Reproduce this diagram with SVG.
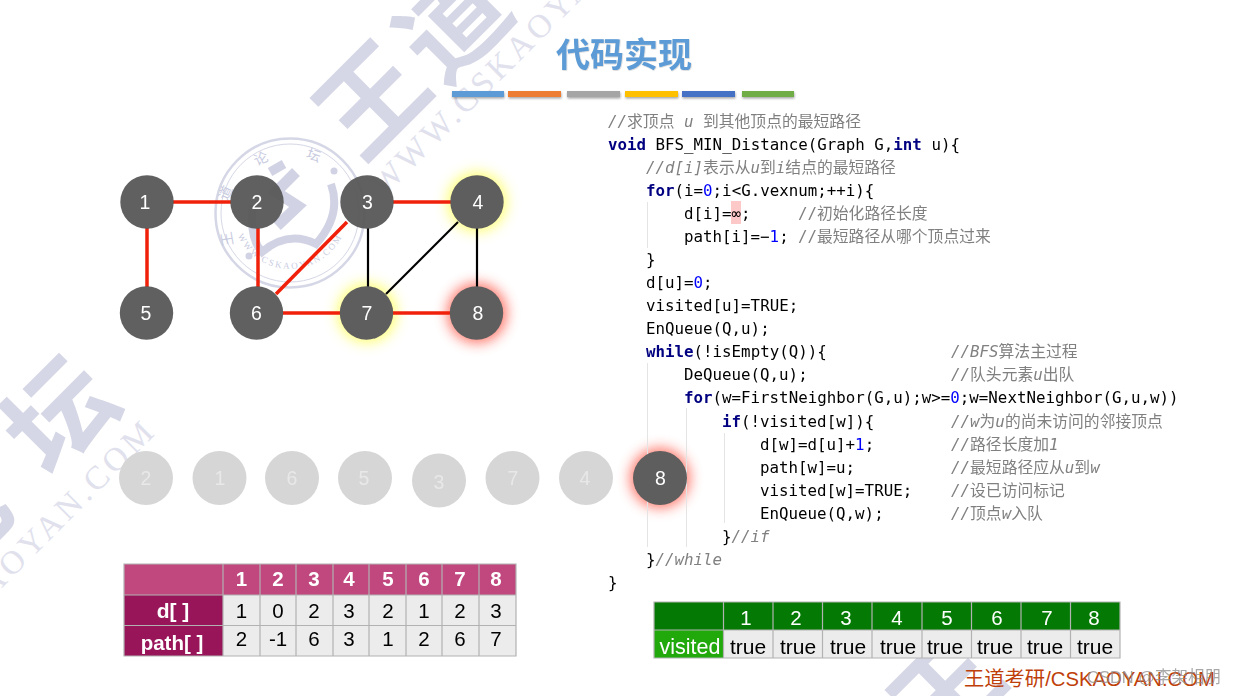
<svg xmlns="http://www.w3.org/2000/svg" width="1238" height="696" viewBox="0 0 1238 696">
<style>
text{font-family:"Liberation Sans","Noto Sans CJK SC",sans-serif}
.wm{font-family:"Noto Sans CJK SC",sans-serif;font-weight:700;font-size:106px;fill:#d5d7e6;text-anchor:middle}
.wt{font-family:"Liberation Serif",serif;fill:#e0e1ed;font-size:33px;letter-spacing:4px}
.seal{fill:none;stroke:#d5d7e6}
.sealt{font-family:"Noto Sans CJK SC",sans-serif;fill:#c9cbdf;font-size:14px;text-anchor:middle}
.n circle{fill:#565656;fill-opacity:.94}
.n circle.o{fill:#5e5e5e;fill-opacity:1}
.n text,.q text{font-size:19.5px;fill:#fff;text-anchor:middle}
.q circle{fill:#d6d6d6}
.q text{fill:#e8e8e8}
.r{stroke:#f0200a;stroke-width:3.5;fill:none}
.b{stroke:#000;stroke-width:2.2;fill:none}
.code text{font-family:"DejaVu Sans Mono","Noto Sans CJK SC",monospace;font-size:15.8px;fill:#000}
.code .k{font-weight:700;fill:#000080}
.code .d{fill:#0000ff}
.code .c{fill:#808080}
.code .i{fill:#808080;font-style:italic}
.g{stroke:#e4e4e4;stroke-width:1}
.t1 .h{fill:#c0487f}.t1 .l{fill:#98155a}
.t2 .h{fill:#047a04}.t2 .l{fill:#21a80a}
.cell{fill:#ececec}
.grid{stroke:#b2b2b2;stroke-width:1.2;fill:none}
.tw{fill:#fff;font-weight:700;font-size:20.5px;text-anchor:middle}
.tb{fill:#000;font-size:20.5px;text-anchor:middle}
.bar{filter:url(#sh)}
</style>
<defs>
<filter id="glow" x="-80%" y="-80%" width="260%" height="260%"><feGaussianBlur stdDeviation="6.5"/></filter>
<filter id="sh" x="-5%" y="-50%" width="110%" height="220%"><feDropShadow dx="0.5" dy="1.5" stdDeviation="1" flood-color="#000" flood-opacity=".35"/></filter>
<filter id="ts"><feDropShadow dx="0.5" dy="0.5" stdDeviation="0.6" flood-color="#000" flood-opacity=".25"/></filter>
<path id="sealbot" d="M236,232 A58,58 0 0 0 344,232"/>
</defs>

<g id="watermark">
<text class="wm" transform="translate(372,100) rotate(-45)" y="38">王</text>
<text class="wm" transform="translate(453,23) rotate(-45)" y="38">道</text>
<text class="wm" transform="translate(60,415) rotate(-45)" y="38">坛</text>
<text class="wm" transform="translate(-45,522) rotate(-45)" y="38">论</text>
<text class="wm" transform="translate(947,692) rotate(-45)" y="38">王</text>
<text class="wt" transform="translate(384,197) rotate(-45)">WWW.CSKAOYAN.COM</text>
<text class="wt" transform="translate(158,432) rotate(-45)" text-anchor="end">WWW.CSKAOYAN.COM</text>
<g id="seal">
<circle class="seal" cx="290" cy="213" r="74.5" stroke-width="2.5"/>
<circle class="seal" cx="290" cy="213" r="69" stroke-width="1"/>
<text class="sealt" transform="translate(232,238) rotate(-100)">王</text>
<text class="sealt" transform="translate(230,195) rotate(-65)">道</text>
<text class="sealt" transform="translate(263,163) rotate(-25)">论</text>
<text class="sealt" transform="translate(312,160) rotate(20)">坛</text>
<text class="sealt" style="font-family:'Liberation Serif',serif;font-size:9px;letter-spacing:2px"><textPath href="#sealbot" startOffset="50%">WWW.CSKAOYAN.COM</textPath></text>
<path d="M296,172 L276,192 L298,206 L277,226" fill="none" stroke="#d1d3e4" stroke-width="11"/>
<path d="M270,172 L284,164" fill="none" stroke="#d1d3e4" stroke-width="9"/>
<path d="M253,205 Q249,238 262,252 Q288,230 316,244 Q342,215 331,184" fill="none" stroke="#d1d3e4" stroke-width="8"/>
<circle cx="334" cy="171" r="3.5" fill="#d1d3e4"/>
<circle cx="249" cy="256" r="3.5" fill="#d1d3e4"/>
</g>
</g>

<g id="title">
<text x="624" y="67" text-anchor="middle" font-size="34" font-weight="700" fill="#5b9bd5" filter="url(#ts)" style="font-family:'Noto Sans CJK SC',sans-serif">代码实现</text>
<rect class="bar" x="452" y="91" width="52" height="6" fill="#5b9bd5"/>
<rect class="bar" x="508" y="91" width="53" height="6" fill="#ed7d31"/>
<rect class="bar" x="567" y="91" width="53" height="6" fill="#a5a5a5"/>
<rect class="bar" x="625" y="91" width="53" height="6" fill="#ffc000"/>
<rect class="bar" x="682" y="91" width="53" height="6" fill="#4472c4"/>
<rect class="bar" x="742" y="91" width="52" height="6" fill="#70ad47"/>
</g>

<g id="glows" opacity=".85">
<circle cx="477" cy="202" r="30" fill="#ffff60" filter="url(#glow)"/>
<circle cx="367" cy="313" r="30" fill="#ffff60" filter="url(#glow)"/>
<circle cx="477" cy="313" r="30" fill="#ff5f50" filter="url(#glow)"/>
<circle cx="660" cy="478" r="30" fill="#ff5f50" filter="url(#glow)"/>
</g>

<g id="connectors">
<path class="r" d="M173,202H231"/>
<path class="r" d="M147,228V287"/>
<path class="r" d="M258,228V287"/>
<path class="r" d="M347,222L276,294"/>
<path class="r" d="M393,202H451"/>
<path class="r" d="M283,313H341"/>
<path class="r" d="M393,313H451"/>
<path class="b" d="M368,228V287"/>
<path class="b" d="M458,222L386,294"/>
<path class="b" d="M477,228V287"/>
</g>

<g id="code-guides">
<line class="g" x1="647.5" y1="202" x2="647.5" y2="248"/>
<line class="g" x1="647.5" y1="363" x2="647.5" y2="547"/>
<line class="g" x1="686.5" y1="408" x2="686.5" y2="547"/>
<line class="g" x1="724.5" y1="433" x2="724.5" y2="523"/>
</g>

<g class="n" id="node-1"><circle cx="147" cy="202" r="26.7"/><text x="145" y="209">1</text></g>
<g class="n" id="node-2"><circle cx="257" cy="202" r="26.7"/><text x="257" y="209">2</text></g>
<g class="n" id="node-3"><circle cx="367" cy="202" r="26.7"/><text x="367.500" y="209">3</text></g>
<g class="n" id="node-4"><circle class="o" cx="477" cy="202" r="26.7"/><text x="478" y="209">4</text></g>
<g class="n" id="node-5"><circle cx="146.500" cy="313" r="26.7"/><text x="146" y="320">5</text></g>
<g class="n" id="node-6"><circle cx="256.500" cy="313" r="26.700"/><text x="256.500" y="320">6</text></g>
<g class="n" id="node-7"><circle class="o" cx="366.500" cy="313" r="26.700"/><text x="367" y="320">7</text></g>
<g class="n" id="node-8"><circle class="o" cx="476.500" cy="313" r="26.700"/><text x="478" y="320">8</text></g>

<g id="queue">
<g class="q" id="q-2"><circle cx="146" cy="478" r="27"/><text x="146" y="485">2</text></g>
<g class="q" id="q-1"><circle cx="219.500" cy="478" r="27"/><text x="220" y="485">1</text></g>
<g class="q" id="q-6"><circle cx="292" cy="478" r="27"/><text x="292" y="485">6</text></g>
<g class="q" id="q-5"><circle cx="365" cy="478" r="27"/><text x="364" y="485">5</text></g>
<g class="q" id="q-3"><circle cx="439" cy="480.500" r="27"/><text x="439" y="489">3</text></g>
<g class="q" id="q-7"><circle cx="512.500" cy="478" r="27"/><text x="513" y="485">7</text></g>
<g class="q" id="q-4"><circle cx="586" cy="478" r="27"/><text x="585" y="485">4</text></g>
<g class="n" id="q-8"><circle class="o" cx="660" cy="478" r="27"/><text x="660.500" y="485">8</text></g>
</g>

<g class="t1" id="table-path">
<rect class="h" x="124" y="564" width="392" height="31"/>
<rect class="l" x="124" y="595" width="99" height="61"/>
<rect class="cell" x="223" y="595" width="293" height="61"/>
<path class="grid" d="M124,564H516V656H124ZM124,595H516M124,625.500H516M223,564V656M260,564V656M296,564V656M333,564V656M369,564V656M406,564V656M442,564V656M479,564V656"/>
<text class="tw" x="241.500" y="586">1</text><text class="tw" x="278" y="586">2</text><text class="tw" x="314" y="586">3</text><text class="tw" x="349" y="586">4</text><text class="tw" x="388" y="586">5</text><text class="tw" x="424" y="586">6</text><text class="tw" x="460" y="586">7</text><text class="tw" x="496" y="586">8</text>
<text class="tw" x="173" y="618" style="font-size:21px">d[ ]</text>
<text class="tw" x="172" y="650">path[ ]</text>
<text class="tb" x="241.500" y="618">1</text><text class="tb" x="278" y="618">0</text><text class="tb" x="314" y="618">2</text><text class="tb" x="349" y="618">3</text><text class="tb" x="388" y="618">2</text><text class="tb" x="424" y="618">1</text><text class="tb" x="460" y="618">2</text><text class="tb" x="496" y="618">3</text>
<text class="tb" x="241.500" y="646">2</text><text class="tb" x="278" y="646">-1</text><text class="tb" x="314" y="646">6</text><text class="tb" x="349" y="646">3</text><text class="tb" x="388" y="646">1</text><text class="tb" x="424" y="646">2</text><text class="tb" x="460" y="646">6</text><text class="tb" x="496" y="646">7</text>
</g>

<g class="t2" id="table-visited">
<rect class="h" x="654" y="602" width="466" height="28"/>
<rect class="l" x="654" y="630" width="69.500" height="28"/>
<rect class="cell" x="723.500" y="630" width="396.500" height="28"/>
<path class="grid" d="M654,602H1120V658H654ZM654,630H1120M723.500,602V658M773,602V658M822.500,602V658M872,602V658M922,602V658M971.500,602V658M1021,602V658M1070.500,602V658"/>
<g font-size="20.5" fill="#fff" text-anchor="middle"><text x="746" y="625">1</text><text x="796" y="625">2</text><text x="846" y="625">3</text><text x="897" y="625">4</text><text x="947" y="625">5</text><text x="997" y="625">6</text><text x="1047" y="625">7</text><text x="1094" y="625">8</text></g>
<text x="690" y="654" font-size="21.5" fill="#fff" text-anchor="middle">visited</text>
<g font-size="21" fill="#000" text-anchor="middle"><text x="748" y="654">true</text><text x="798" y="654">true</text><text x="848" y="654">true</text><text x="898" y="654">true</text><text x="945" y="654">true</text><text x="995" y="654">true</text><text x="1045" y="654">true</text><text x="1095" y="654">true</text></g>
</g>

<g class="code" id="code" xml:space="preserve" transform="translate(0,1)">
<rect x="731" y="200" width="10" height="23" fill="#fcc8c8"/>
<text x="608" y="126"><tspan class="i">//</tspan><tspan class="c">求顶点 </tspan><tspan class="i">u </tspan><tspan class="c">到其他顶点的最短路径</tspan></text>
<text x="608" y="149"><tspan class="k">void</tspan> BFS_MIN_Distance(Graph G,<tspan class="k">int</tspan> u){</text>
<text x="646" y="172"><tspan class="i">//d[i]</tspan><tspan class="c">表示从</tspan><tspan class="i">u</tspan><tspan class="c">到</tspan><tspan class="i">i</tspan><tspan class="c">结点的最短路径</tspan></text>
<text x="646" y="195"><tspan class="k">for</tspan>(i=<tspan class="d">0</tspan>;i&lt;G.vexnum;++i){</text>
<text x="684" y="218">d[i]=∞;</text><text x="798" y="218" class="c">//初始化路径长度</text>
<text x="684" y="241">path[i]=−<tspan class="d">1</tspan>;</text><text x="798" y="241" class="c">//最短路径从哪个顶点过来</text>
<text x="646" y="264">}</text>
<text x="646" y="287">d[u]=<tspan class="d">0</tspan>;</text>
<text x="646" y="310">visited[u]=TRUE;</text>
<text x="646" y="333">EnQueue(Q,u);</text>
<text x="646" y="356"><tspan class="k">while</tspan>(!isEmpty(Q)){</text><text x="951" y="356"><tspan class="i">//BFS</tspan><tspan class="c">算法主过程</tspan></text>
<text x="684" y="379">DeQueue(Q,u);</text><text x="951" y="379"><tspan class="i">//</tspan><tspan class="c">队头元素</tspan><tspan class="i">u</tspan><tspan class="c">出队</tspan></text>
<text x="684" y="402"><tspan class="k">for</tspan>(w=FirstNeighbor(G,u);w&gt;=<tspan class="d">0</tspan>;w=NextNeighbor(G,u,w))</text>
<text x="722" y="426"><tspan class="k">if</tspan>(!visited[w]){</text><text x="951" y="426"><tspan class="i">//w</tspan><tspan class="c">为</tspan><tspan class="i">u</tspan><tspan class="c">的尚未访问的邻接顶点</tspan></text>
<text x="760" y="449">d[w]=d[u]+<tspan class="d">1</tspan>;</text><text x="951" y="449"><tspan class="i">//</tspan><tspan class="c">路径长度加</tspan><tspan class="i">1</tspan></text>
<text x="760" y="472">path[w]=u;</text><text x="951" y="472"><tspan class="i">//</tspan><tspan class="c">最短路径应从</tspan><tspan class="i">u</tspan><tspan class="c">到</tspan><tspan class="i">w</tspan></text>
<text x="760" y="495">visited[w]=TRUE;</text><text x="951" y="495"><tspan class="i">//</tspan><tspan class="c">设已访问标记</tspan></text>
<text x="760" y="518">EnQueue(Q,w);</text><text x="951" y="518"><tspan class="i">//</tspan><tspan class="c">顶点</tspan><tspan class="i">w</tspan><tspan class="c">入队</tspan></text>
<text x="722" y="541">}<tspan class="i">//if</tspan></text>
<text x="646" y="564">}<tspan class="i">//while</tspan></text>
<text x="608" y="587">}</text>
</g>

<g id="footer">
<text x="964" y="686" font-size="20.3" fill="#bf3f0a">王道考研/CSKAOYAN.COM</text>
<text x="1087" y="683" font-size="16.5" fill="#8c8c8c" opacity=".75">CSDN @李架相朋</text>
</g>
</svg>
